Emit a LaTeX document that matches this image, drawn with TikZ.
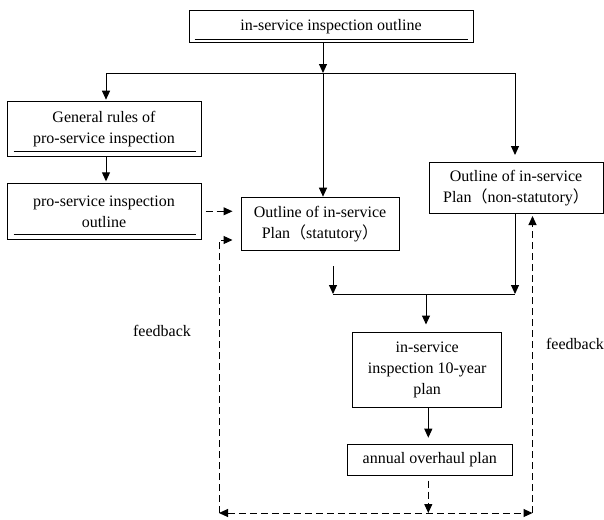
\documentclass[tikz,border=0pt]{standalone}
\usepackage{fontspec}
\setmainfont{Liberation Serif}
\newfontfamily\cjk{Noto Sans CJK SC}
\usetikzlibrary{arrows.meta}
\begin{document}
\begin{tikzpicture}[x=1pt,y=-1pt,
  box/.style={draw,line width=1pt,inner sep=0pt,align=center,font=\fontsize{16}{21}\selectfont},
  arr/.style={line width=1pt,-{Triangle[length=9pt,width=8pt]}},
  dashpat/.style={dash pattern=on 7pt off 4pt},
  darr/.style={arr,dashpat},
  dboth/.style={line width=1pt,dashpat,{Triangle[length=9pt,width=8pt]}-{Triangle[length=9pt,width=8pt]}},
  uline/.style={line width=1pt},
  lab/.style={font=\fontsize{16}{21}\selectfont,inner sep=0pt}]
\useasboundingbox (0,0) rectangle (604,519);
\fill[white] (0,0) rectangle (604,519);

% boxes
\node[box,minimum width=284pt,minimum height=32pt] (top) at (331,27) {in-service inspection outline};
\node[box,minimum width=194pt,minimum height=55pt] (gen) at (104,129.2) {General rules of\\pro-service inspection};
\node[box,minimum width=194pt,minimum height=56pt] (pro) at (104,211.3) {pro-service inspection\\outline};
\node[box,minimum width=158pt,minimum height=53pt] (stat) at (320,223.7) {Outline of in-service\\Plan{\cjk （}statutory{\cjk ）}};
\node[box,minimum width=174pt,minimum height=51pt] (nonst) at (516,188) {Outline of in-service\\Plan{\cjk （}non-statutory{\cjk ）}};
\node[box,minimum width=149pt,minimum height=75pt] (ten) at (427.2,370) {in-service\\inspection 10-year\\plan};
\node[box,minimum width=165pt,minimum height=31pt] (annual) at (429.8,459.7) {annual overhaul plan};

% underlines inside boxes
\draw[uline] ([xshift=6pt,yshift=4pt]top.south west) -- ([xshift=-6pt,yshift=4pt]top.south east);
\draw[uline] ([xshift=7pt,yshift=6pt]gen.south west) -- ([xshift=-6pt,yshift=6pt]gen.south east);
\draw[uline] ([xshift=7pt,yshift=5pt]pro.south west) -- ([xshift=-6pt,yshift=5pt]pro.south east);

% feedback labels
\node[lab] (fb1) at (162,331) {feedback};
\node[lab] (fb2) at (575,344) {feedback};

% coordinates
\coordinate (jt) at (323,43);
\coordinate (jl) at (106,73);
\coordinate (jm) at (323,73);
\coordinate (jr) at (515,73);
\coordinate (s1) at (333,266);
\coordinate (m1) at (333,294);
\coordinate (m2) at (515,294);
\coordinate (mm) at (426,294);
\coordinate (bl) at (219,513);
\coordinate (br) at (532.5,513);
\coordinate (bm) at (428.3,513);
\coordinate (lc) at (219,240);

% solid connectors
\draw[arr] (jt) -- (jm);
\draw[line width=1pt] (jl) -- (jr);
\draw[arr,shorten >=1.5pt] (jl) -- (jl |- gen.north);
\draw[arr] (jm) -- (jm |- stat.north);
\draw[arr,shorten >=7pt] (jr) -- (jr |- nonst.north);
\draw[arr,shorten >=1.5pt] (gen.south -| jl) -- (pro.north -| jl);
\draw[arr] (s1) -- (m1);
\draw[arr] (nonst.south -| m2) -- (m2);
\draw[line width=1pt] (m1) -- (m2);
\draw[arr,shorten >=7.5pt] (mm) -- (mm |- ten.north);
\draw[arr,shorten >=6pt] (ten.south -| bm) -- (annual.north -| bm);

% dashed connectors
\draw[darr,shorten <=4pt,shorten >=8pt] (pro.east) -- (pro.east -| stat.west);
\draw[darr,shorten <=5pt] (annual.south -| bm) -- (bm);
\draw[dboth] (bl) -- (br);
\draw[darr,shorten >=8pt] (bl) -- (lc) -- (lc -| stat.west);
\draw[darr,shorten >=2pt] (br) -- (br |- nonst.south);
\end{tikzpicture}
\end{document}
